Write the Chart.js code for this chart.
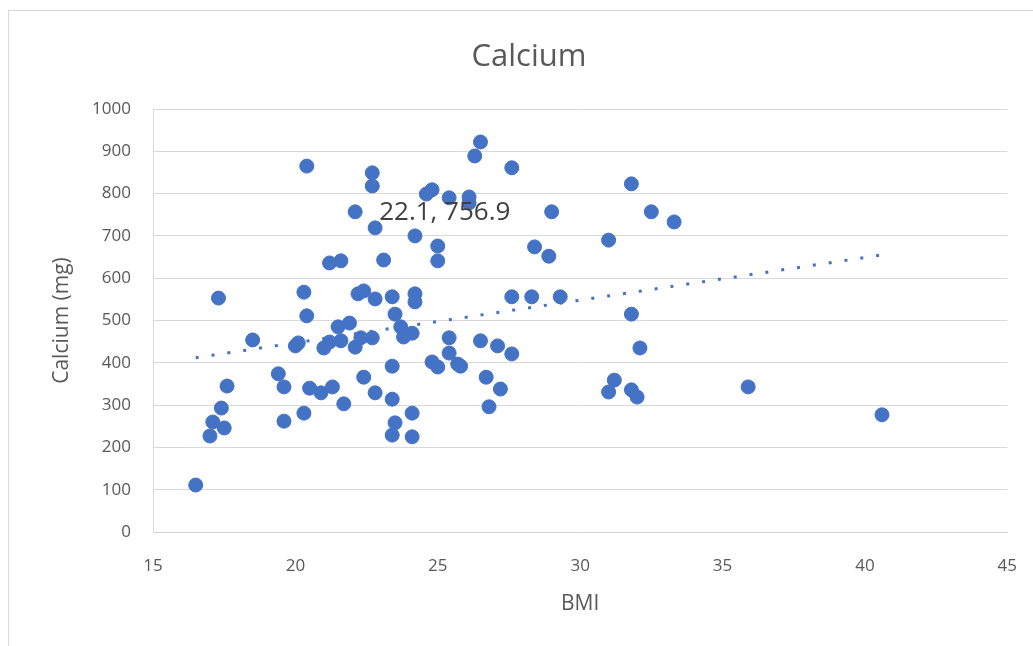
<!DOCTYPE html>
<html>
<head>
<meta charset="utf-8">
<script src="https://cdn.jsdelivr.net/npm/chart.js@4.4.1/dist/chart.umd.min.js"></script>
<style>
    html, body { margin: 0; padding: 0; background: #fff; }
    #wrap { position: relative; width: 1033px; height: 646px; overflow: hidden; }
    #frame { position: absolute; left: 8px; top: 10px; width: 1100px; height: 700px; border: 1px solid #d9d9d9; pointer-events: none; }
    canvas { position: absolute; left: 0; top: 0; }
</style>
</head>
<body>
<div id="wrap">
    <canvas id="chart" width="1033" height="646"></canvas>
    <div id="frame"></div>
</div>
<script>
const bmi = [
    16.5, 17.0, 17.1, 17.5, 17.4, 17.6, 17.3, 18.5, 19.4, 19.6,
    19.6, 20.0, 20.1, 20.3, 20.3, 20.4, 20.4, 20.5, 20.9, 21.3,
    21.0, 21.2, 21.2, 21.6, 21.5, 21.9, 21.6, 21.7, 22.1, 22.1,
    22.3, 22.2, 22.4, 22.4, 22.7, 22.7, 22.7, 22.8, 22.8, 22.8,
    23.1, 23.4, 23.5, 23.4, 23.4, 23.5, 23.4, 23.7, 23.8, 24.1,
    24.2, 24.2, 24.2, 24.1, 24.1, 24.6, 24.8, 24.8, 25.0, 25.0,
    25.0, 25.4, 25.4, 25.4, 25.7, 25.8, 26.1, 26.1, 26.3, 26.5,
    26.5, 26.7, 26.8, 27.2, 27.1, 27.6, 27.6, 27.6, 28.3, 28.4,
    28.9, 29.0, 29.3, 31.0, 31.2, 31.0, 31.8, 31.8, 31.8, 32.0,
    32.1, 32.5, 33.3, 35.9, 40.6
];
const calcium = [
    111, 227, 260, 246, 293, 345, 553, 454, 374, 343,
    262, 440, 447, 281, 567, 511, 865, 340, 329, 343,
    435, 449, 636, 641, 485, 494, 452, 303, 756.9, 437,
    459, 563, 570, 366, 849, 818, 459, 719, 551, 329,
    643, 556, 515, 392, 314, 258, 229, 485, 461, 470,
    563, 544, 700, 281, 225, 799, 809, 402, 390, 676,
    641, 459, 423, 790, 397, 392, 792, 778, 889, 922,
    452, 366, 296, 338, 440, 421, 861, 556, 556, 674,
    652, 757, 556, 331, 359, 690, 823, 515, 336, 319,
    435, 757, 733, 343, 277
];
// linear trendline ends
const trendX = [16.5, 40.6];
const trendY = [412, 655];
const xTicks = [15, 20, 25, 30, 35, 40, 45];
const labelIndex = 28;
const chartTitle = 'Calcium';

const points = bmi.map((x, i) => ({x: x, y: calcium[i]}));
const trend = trendX.map((x, i) => ({x: x, y: trendY[i]}));

const textColor = '#595959';
const blue = '#4472C4';

// excel centres the title on the whole chart object, a bit right of canvas centre
const titleAndLabel = {
    id: 'titleAndLabel',
    afterDraw(chart) {
        const ctx = chart.ctx;
        ctx.save();
        ctx.font = '31px "Open Sans"';
        ctx.fillStyle = textColor;
        ctx.textAlign = 'center';
        ctx.textBaseline = 'middle';
        ctx.fillText(chartTitle, 529, 57);
        ctx.restore();
    },
    afterDatasetsDraw(chart) {
        const el = chart.getDatasetMeta(1).data[labelIndex];
        if (!el) return;
        const ctx = chart.ctx;
        ctx.save();
        ctx.font = '26px "Open Sans"';
        ctx.fillStyle = '#404040';
        ctx.textAlign = 'left';
        ctx.textBaseline = 'middle';
        ctx.fillText(bmi[labelIndex] + ', ' + calcium[labelIndex], el.x + 24, el.y + 1);
        ctx.restore();
    }
};

new Chart(document.getElementById('chart').getContext('2d'), {
    type: 'scatter',
    data: {
        datasets: [{
            type: 'line',
            data: trend,
            borderColor: blue,
            borderWidth: 3,
            borderDash: [3, 13],
            pointRadius: 0,
            fill: false,
            order: 0
        }, {
            data: points,
            backgroundColor: blue,
            borderColor: blue,
            pointRadius: 7,
            pointHoverRadius: 7,
            order: 1
        }]
    },
    options: {
        responsive: false,
        animation: false,
        events: [],
        layout: {
            padding: {left: 8, right: 22, top: 109, bottom: 8}
        },
        plugins: {
            legend: {display: false},
            tooltip: {enabled: false},
            title: {display: false}
        },
        scales: {
            x: {
                type: 'linear',
                min: 15,
                max: 45,
                afterFit: scale => { scale.height = 106; },
                afterBuildTicks: scale => { scale.ticks = xTicks.map(v => ({value: v})); },
                grid: {display: false},
                border: {display: true, color: '#d0d0d0', width: 1},
                ticks: {
                    color: textColor,
                    font: {family: 'Open Sans', size: 17},
                    padding: 16,
                    maxRotation: 0
                },
                title: {
                    display: true,
                    text: 'BMI',
                    color: textColor,
                    font: {family: 'Open Sans', size: 21},
                    padding: {top: 0, bottom: 21}
                }
            },
            y: {
                min: 0,
                max: 1000,
                afterFit: scale => { scale.width = 145; },
                grid: {color: '#d9d9d9', lineWidth: 1, drawTicks: false},
                border: {display: true, color: '#d9d9d9', width: 1},
                ticks: {
                    stepSize: 100,
                    color: textColor,
                    font: {family: 'Open Sans', size: 17},
                    padding: 22,
                    callback: v => String(v)
                },
                title: {
                    display: true,
                    text: 'Calcium (mg)',
                    color: textColor,
                    font: {family: 'Open Sans', size: 21},
                    padding: {top: 41, bottom: 0}
                }
            }
        }
    },
    plugins: [titleAndLabel]
});
</script>
</body>
</html>
